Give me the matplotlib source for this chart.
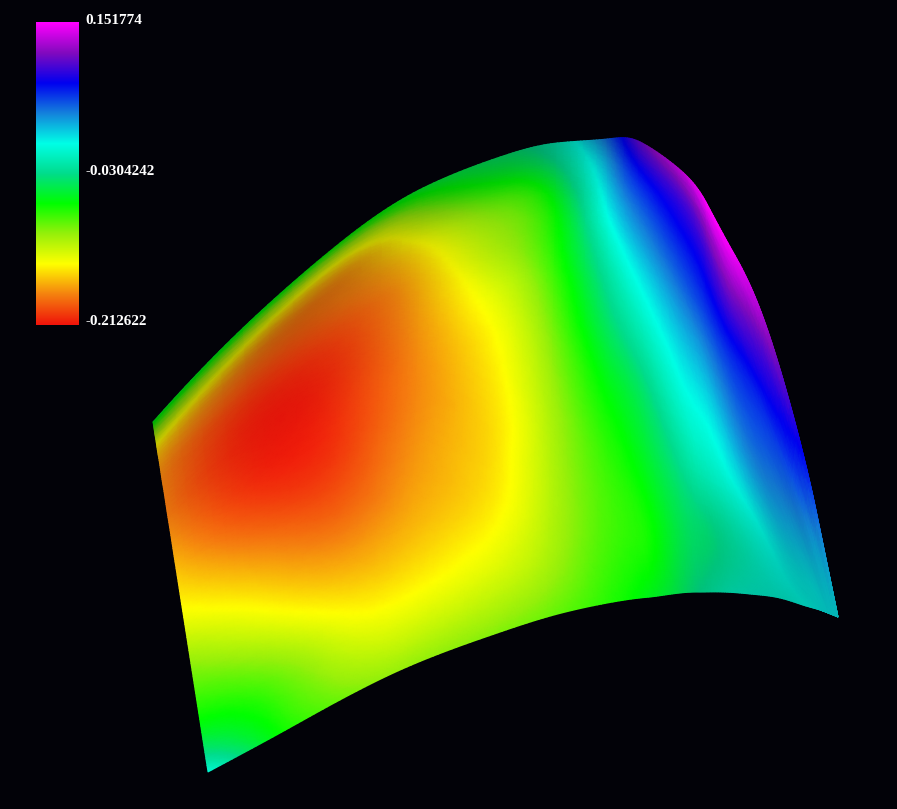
import matplotlib
matplotlib.use('Agg')
import matplotlib.pyplot as plt
import matplotlib.tri as mtri
import numpy as np
from matplotlib.colors import LinearSegmentedColormap, Normalize

# scale of the legend
v_min = -0.212622
v_max = 0.151774
tick_labels = ['0.151774', '-0.0304242', '-0.212622']

# outline of the surface in picture coordinates
top_x = [153, 243, 340, 423, 500, 557, 607, 638, 678, 707, 733, 763, 797, 818, 838]
top_y = [422, 328, 243, 188, 157, 143, 139, 141, 168, 204, 252, 317, 430, 520, 617]
bot_x = [208, 273, 340, 407, 480, 547, 613, 650, 680, 700, 723, 750, 780, 806, 823]
bot_y = [772, 737, 700, 667, 639, 617, 602, 597, 593, 592, 592, 594, 598, 606, 611]
row_pos = [0, .04, .10, .18, .28, .40, .55, .70, .85, 1]

# position on the colour scale (0 = min, 1 = max), one row per column of the surface
levels = [
    [.42, .27, .14, .10, .10, .14, .21, .31, .40, .58],
    [.42, .22, .09, .03, .01, .03, .11, .21, .33, .41],
    [.40, .20, .10, .06, .03, .03, .06, .13, .23, .33],
    [.43, .33, .22, .15, .12, .105, .115, .14, .20, .30],
    [.47, .42, .33, .28, .23, .19, .17, .175, .22, .31],
    [.55, .50, .43, .39, .36, .32, .285, .27, .276, .33],
    [.72, .68, .64, .59, .53, .476, .41, .37, .357, .38],
    [.87, .82, .76, .70, .63, .56, .48, .43, .39, .42],
    [.95, .88, .82, .77, .71, .64, .57, .50, .456, .46],
    [1.0, .94, .87, .81, .75, .675, .60, .54, .48, .50],
    [.99, .96, .91, .85, .78, .72, .645, .57, .51, .54],
    [.93, .91, .87, .83, .78, .74, .69, .61, .56, .57],
    [.82, .81, .79, .77, .74, .71, .67, .63, .60, .58],
    [.72, .71, .70, .69, .67, .66, .64, .62, .61, .60],
    [.62, .62, .62, .62, .62, .62, .62, .62, .62, .62],
]

# how much the lighting darkens the surface at the same grid points
shade = [
    [.30, .25, .15, .10, .05, 0, 0, 0, 0, 0],
    [.30, .28, .20, .10, .05, 0, 0, 0, 0, 0],
    [.30, .25, .20, .10, .05, 0, 0, 0, 0, 0],
    [.25, .22, .15, .08, .03, 0, 0, 0, 0, 0],
    [.25, .20, .10, .05, 0, 0, 0, 0, 0, 0],
    [.25, .18, .10, .03, 0, 0, 0, 0, 0, 0],
    [.20, .12, .05, 0, 0, 0, 0, 0, 0, 0],
    [.15, .08, 0, 0, 0, 0, 0, 0, 0, .03],
    [.08, .03, 0, 0, 0, 0, 0, 0, .03, .08],
    [0, 0, 0, 0, 0, 0, 0, .02, .06, .12],
    [0, 0, 0, 0, 0, 0, 0, .05, .10, .15],
    [0, 0, 0, 0, 0, 0, .05, .10, .15, .20],
    [0, 0, 0, 0, 0, .08, .12, .18, .20, .22],
    [0, 0, .05, .08, .10, .14, .18, .20, .22, .22],
    [.20, .20, .20, .20, .20, .20, .20, .20, .20, .20],
]

# colours of the scale, with the darker midpoints seen in the legend
scale_colors = ['#f0140a', '#f5820f', '#ffff00', '#96f00a', '#00ff00', '#00dc8c',
                '#00ffe6', '#1482dc', '#0000f0', '#820abe', '#ff00ff']

cmap = LinearSegmentedColormap.from_list('scale', scale_colors, N=512)
norm = Normalize(v_min, v_max)

fig = plt.figure(figsize=(8.97, 8.09), dpi=100, facecolor='#020208')
ax = fig.add_axes([0, 0, 1, 1])
ax.axis('off')

# positions of the grid points between the two edges
s = np.array(row_pos)[None, :]
tx, ty = np.array(top_x)[:, None], np.array(top_y)[:, None]
bx, by = np.array(bot_x)[:, None], np.array(bot_y)[:, None]
X = tx + (bx - tx) * s
Y = ty + (by - ty) * s
Z = v_min + np.array(levels) * (v_max - v_min)

nc, nr = X.shape
idx = np.arange(nc * nr).reshape(nc, nr)
a = idx[:-1, :-1].ravel()
b = idx[1:, :-1].ravel()
c = idx[1:, 1:].ravel()
d = idx[:-1, 1:].ravel()
tris = np.vstack([np.c_[a, b, c], np.c_[a, c, d]])

# refine in grid space so the outline comes out curved too
U, V = np.meshgrid(np.arange(nc), np.array(row_pos) * 9, indexing='ij')
grid_tri = mtri.Triangulation(U.ravel(), V.ravel(), tris)
refiner = mtri.UniformTriRefiner(grid_tri)
fine, fine_z = refiner.refine_field(Z.ravel(), subdiv=4)
_, fine_x = refiner.refine_field(X.ravel(), subdiv=4)
_, fine_y = refiner.refine_field(Y.ravel(), subdiv=4)
_, fine_s = refiner.refine_field(np.array(shade).ravel(), subdiv=4)

surface = mtri.Triangulation(fine_x, fine_y, fine.triangles)
mesh = ax.tripcolor(surface, fine_z, shading='gouraud', cmap=cmap, norm=norm)

# gouraud ignores alpha, so darken the vertex colours directly
rgba = cmap(norm(fine_z))
rgba[:, :3] *= (1 - np.clip(fine_s, 0, 1))[:, None]
mesh.set_array(None)
mesh.set_facecolor(rgba)

# legend
bar = np.linspace(v_max, v_min, 256)[:, None]
ax.imshow(bar, extent=(36, 79, 325, 22), cmap=cmap, norm=norm,
          aspect='auto', interpolation='bilinear')
ax.set_xlim(0, 897)
ax.set_ylim(809, 0)

label_y = [20, 171, 321]
for lab, y in zip(tick_labels, label_y):
    ax.text(85, y, lab, color='white', fontsize=10.9, family='Liberation Serif',
            fontweight='bold', va='center', ha='left')

fig.savefig('out.png', dpi=100, facecolor=fig.get_facecolor())
